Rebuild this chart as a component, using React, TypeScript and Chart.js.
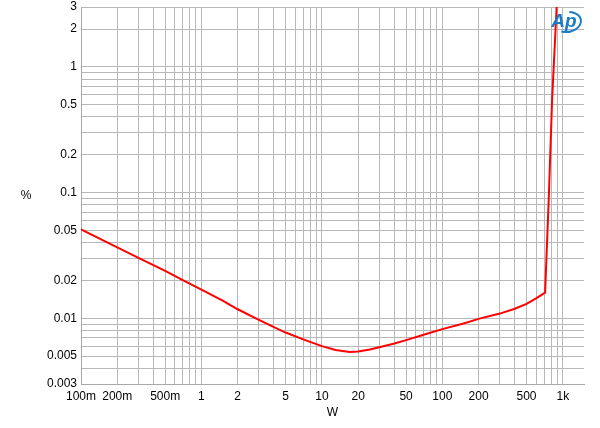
import React, { useEffect, useRef } from "react";
import { Chart, registerables } from "chart.js";

Chart.register(...registerables);

// Measured curve: output power (W) vs THD+N (%)
const powerW = [0.1, 0.2, 0.3, 0.5, 0.7, 1, 1.5, 2, 3, 4, 5, 7, 10, 13, 17, 20, 25, 30, 40, 50, 70, 100, 150, 200, 300, 400, 500, 600, 713, 764, 815, 889, 910];
const thdPct = [0.051, 0.0367, 0.0302, 0.0238, 0.0201, 0.0169, 0.0138, 0.0118, 0.0097, 0.0085, 0.0077, 0.0068, 0.006, 0.0056, 0.0054, 0.00545, 0.00565, 0.00588, 0.0063, 0.0067, 0.0074, 0.0082, 0.0091, 0.0099, 0.0109, 0.0119, 0.013, 0.0144, 0.016, 0.0873, 0.545, 3.0, 4.0];

// Axis ranges and tick labels
const xMin = 0.1;
const xMax = 1500;
const yMin = 0.003;
const yMax = 3;
const xLabelValues = [0.1, 0.2, 0.5, 1, 2, 5, 10, 20, 50, 100, 200, 500, 1000];
const xLabelTexts = ["100m", "200m", "500m", "1", "2", "5", "10", "20", "50", "100", "200", "500", "1k"];
const yLabelValues = [0.003, 0.005, 0.01, 0.02, 0.05, 0.1, 0.2, 0.5, 1, 2, 3];
const yLabelTexts = ["0.003", "0.005", "0.01", "0.02", "0.05", "0.1", "0.2", "0.5", "1", "2", "3"];
const xGridDecades = [0.1, 1, 10, 100, 1000];
const yGridDecades = [0.001, 0.01, 0.1, 1];
const gridMultipliers = [1, 2, 3, 4, 5, 6, 7, 8, 9];

const FONT = "'Liberation Sans', Arial, Helvetica, sans-serif";

function buildGrid(decades: number[], min: number, max: number) {
  const vals: number[] = [];
  decades.forEach((d) => gridMultipliers.forEach((m) => vals.push(parseFloat((m * d).toPrecision(6)))));
  return Array.from(new Set(vals.filter((v) => v >= min * 0.9999 && v <= max * 1.0001))).sort((a, b) => a - b);
}

function labelFor(values: number[], texts: string[], v: number) {
  for (let i = 0; i < values.length; i++) {
    if (Math.abs(Math.log10(values[i]) - Math.log10(v)) < 1e-6) return texts[i];
  }
  return "";
}

const overlayPlugin = {
  id: "overlay",
  afterDraw(chart: any) {
    const { ctx, chartArea } = chart;
    ctx.save();
    // "%" axis title
    ctx.fillStyle = "#000";
    ctx.font = `12px ${FONT}`;
    ctx.textAlign = "center";
    ctx.textBaseline = "middle";
    ctx.fillText("%", 26, (chartArea.top + chartArea.bottom) / 2);
    // AP logo
    const cx = chartArea.right - 18;
    const cy = chartArea.top + 15;
    ctx.fillStyle = "#1b7cc3";
    ctx.strokeStyle = "#1b7cc3";
    ctx.font = `italic bold 19px ${FONT}`;
    ctx.fillText("Ap", cx - 2, cy);
    ctx.lineWidth = 2;
    ctx.beginPath();
    ctx.ellipse(cx + 1, cy, 14, 10, -0.15, -1.3, 2.1);
    ctx.stroke();
    ctx.restore();
  },
};

export default function App() {
  const canvasRef = useRef<HTMLCanvasElement | null>(null);

  useEffect(() => {
    if (!canvasRef.current) return;
    const xGrid = buildGrid(xGridDecades, xMin, xMax);
    const yGrid = buildGrid(yGridDecades, yMin, yMax);
    const points = powerW.map((x, i) => ({ x, y: thdPct[i] }));

    const chart = new Chart(canvasRef.current, {
      type: "line",
      data: {
        datasets: [
          {
            data: points,
            borderColor: "#ff0000",
            borderWidth: 2,
            pointRadius: 0,
            tension: 0,
            fill: false,
          },
        ],
      },
      options: {
        responsive: false,
        animation: false,
        layout: { padding: { top: 7, right: 16, left: 0, bottom: 0 } },
        plugins: { legend: { display: false }, tooltip: { enabled: false } },
        scales: {
          x: {
            type: "logarithmic",
            min: xMin,
            max: xMax,
            afterBuildTicks: (scale: any) => {
              scale.ticks = xGrid.map((v) => ({ value: v }));
            },
            afterFit: (scale: any) => {
              scale.height = 44;
              scale.paddingLeft = 0;
              scale.paddingRight = 0;
            },
            grid: { color: "#b8b8b8", lineWidth: 1, drawTicks: false },
            border: { color: "#a9a9a9", width: 1 },
            ticks: {
              autoSkip: false,
              maxRotation: 0,
              minRotation: 0,
              padding: 5,
              color: "#000",
              font: { family: FONT, size: 12 },
              callback: (v: any) => labelFor(xLabelValues, xLabelTexts, Number(v)),
            },
            title: {
              display: true,
              text: "W",
              color: "#000",
              font: { family: FONT, size: 12 },
              padding: { top: 0, bottom: 8 },
            },
          },
          y: {
            type: "logarithmic",
            min: yMin,
            max: yMax,
            afterBuildTicks: (scale: any) => {
              scale.ticks = yGrid.map((v) => ({ value: v }));
            },
            afterFit: (scale: any) => {
              scale.width = 81;
              scale.paddingTop = 0;
              scale.paddingBottom = 0;
            },
            grid: { color: "#b8b8b8", lineWidth: 1, drawTicks: false },
            border: { color: "#a9a9a9", width: 1 },
            ticks: {
              autoSkip: false,
              padding: 4,
              color: "#000",
              font: { family: FONT, size: 12 },
              callback: (v: any) => labelFor(yLabelValues, yLabelTexts, Number(v)),
            },
          },
        },
      },
      plugins: [overlayPlugin],
    } as any);

    return () => chart.destroy();
  }, []);

  return (
    <div style={{ position: "fixed", left: 0, top: 0, width: 600, height: 428, background: "#fff" }}>
      <canvas ref={canvasRef} width={600} height={428} />
    </div>
  );
}
